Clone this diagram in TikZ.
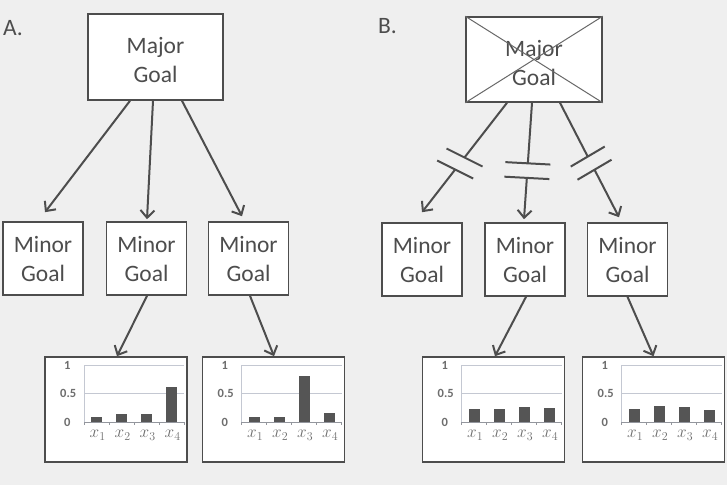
\documentclass[tikz,border=0pt]{standalone}
\usepackage{fontspec}
\setmainfont{Carlito}
\usetikzlibrary{arrows.meta,calc}
\definecolor{ink}{HTML}{4D4D4D}
\definecolor{bg}{HTML}{EFEFEF}
\definecolor{gridc}{HTML}{C4C8D2}
\definecolor{lbl}{HTML}{6E6E6E}
\definecolor{barc}{HTML}{555555}
\newcommand\drawchart[5]{%
\begin{scope}[shift={(#1.north west)}]
  \draw[gridln] (40,9) -- (140,9);
  \draw[gridln] (40,37.5) -- (140,37.5);
  \draw[gridln] (40,9) -- (40,66);
  \draw[baseln] (40,66) -- (140,66);
  \foreach \k in {0,...,4} {\draw[baseln] ({40+25*\k},66) -- ({40+25*\k},68.5);}
  \node[ticklbl] (#1t1) at (23,9) {1};
  \node[ticklbl] (#1t5) at (24,37.5) {0.5};
  \node[ticklbl] (#1t0) at (23,66) {0};
  \foreach \v [count=\i] in {#2,#3,#4,#5} {
    \fill[barc] ({52.5+25*(\i-1)-5.5},66) rectangle ({52.5+25*(\i-1)+5.5},{66-57*\v});
    \node[xlbl] (#1x\i) at ({53.5+25*(\i-1)},79) {$x_{\i}$};
  }
\end{scope}}
\begin{document}
\begin{tikzpicture}[x=1pt,y=-1pt,
  goal/.style={draw=ink, line width=1.6pt, fill=white, text=ink, align=center,
    font=\fontsize{23.5}{29}\selectfont, inner sep=0pt},
  major/.style={goal, minimum width=135pt, minimum height=86pt},
  minor/.style={goal, minimum width=80pt, minimum height=73pt},
  chart/.style={draw=ink, line width=1.6pt, fill=white, minimum width=142pt,
    minimum height=105pt, inner sep=0pt},
  arr/.style={draw=ink, line width=2pt,
    -{Straight Barb[length=7.5pt,width=14pt,line width=2pt]}},
  seg/.style={draw=ink, line width=2pt},
  brk/.style={draw=ink, line width=2pt},
  gridln/.style={draw=gridc, line width=0.8pt},
  baseln/.style={draw=gridc!75!black, line width=0.8pt},
  ticklbl/.style={font=\fontsize{12.5}{12.5}\selectfont\bfseries, text=lbl, inner sep=0pt},
  xlbl/.style={font=\fontsize{17.5}{17.5}\selectfont, text=lbl, inner sep=0pt},
  panel/.style={font=\fontsize{23.5}{23.5}\selectfont, text=ink, anchor=base west, inner sep=0pt}
]
\fill[bg] (0,0) rectangle (727,485);
\useasboundingbox (0,0) rectangle (727,485);

% panel labels
\node[panel] (lA) at (3,35) {A.};
\node[panel] (lB) at (378,33) {B.};

% major goals
\node[major] (majA) at (155.5,57) {\rule{0pt}{23pt}Major\\Goal};
\node[major, minimum width=136pt, minimum height=85pt] (majB) at (534,59.5) {\rule{0pt}{23pt}Major\\Goal};
\draw[draw=ink!85, line width=1pt] (majB.north west) -- (majB.south east)
  (majB.north east) -- (majB.south west);

% minor goals
\node[minor] (mnA1) at (43,258.5) {Minor\\Goal};
\node[minor] (mnA2) at (146.5,258.5) {Minor\\Goal};
\node[minor] (mnA3) at (248.5,258.5) {Minor\\Goal};
\node[minor] (mnB1) at (422,259.5) {Minor\\Goal};
\node[minor] (mnB2) at (525,259.5) {Minor\\Goal};
\node[minor] (mnB3) at (627.5,259.5) {Minor\\Goal};

% charts
\node[chart] (cA1) at (116,409.5) {};
\node[chart] (cA2) at (273.5,409.5) {};
\node[chart] (cB1) at (493.5,409.5) {};
\node[chart] (cB2) at (653.5,409.5) {};
\drawchart{cA1}{0.1}{0.15}{0.15}{0.61}
\drawchart{cA2}{0.1}{0.1}{0.81}{0.16}
\drawchart{cB1}{0.24}{0.23}{0.26}{0.25}
\drawchart{cB2}{0.23}{0.28}{0.26}{0.21}

% panel A arrows
\draw[arr] ([xshift=-25.5pt]majA.south) -- ([xshift=2pt,yshift=9pt]mnA1.north);
\draw[arr] ([xshift=-2.5pt]majA.south) -- ([xshift=0.5pt,yshift=2pt]mnA2.north);
\draw[arr] ([xshift=26.5pt]majA.south) -- ([xshift=-6.5pt,yshift=5pt]mnA3.north);
\draw[arr] ([xshift=0.5pt]mnA2.south) -- ([xshift=1pt]cA1.north);
\draw[arr] ([xshift=1.5pt]mnA3.south) -- ([xshift=0.5pt]cA2.north);

% panel B arrows with breaks
\coordinate (sB1) at ([xshift=-27pt]majB.south);
\coordinate (eB1) at ([yshift=10pt]mnB1.north);
\coordinate (sB2) at ([xshift=-2pt]majB.south);
\coordinate (eB2) at ([xshift=-1pt,yshift=3pt]mnB2.north);
\coordinate (sB3) at ([xshift=26pt]majB.south);
\coordinate (eB3) at ([xshift=-8.5pt,yshift=5pt]mnB3.north);

\draw[seg] (sB1) -- ($(sB1)!0.5!(eB1)$);
\draw[arr] ($(sB1)!0.61!(eB1)$) -- (eB1);
\draw[brk] ($(sB1)!0.5!(eB1)+(-18,-9)$) -- ($(sB1)!0.5!(eB1)+(18,9)$);
\draw[brk] ($(sB1)!0.61!(eB1)+(-18,-9)$) -- ($(sB1)!0.61!(eB1)+(18,9)$);

\draw[seg] (sB2) -- ($(sB2)!0.52!(eB2)$);
\draw[arr] ($(sB2)!0.645!(eB2)$) -- (eB2);
\draw[brk] ($(sB2)!0.52!(eB2)+(-22.5,-1.2)$) -- ($(sB2)!0.52!(eB2)+(22.5,1.2)$);
\draw[brk] ($(sB2)!0.645!(eB2)+(-22.5,-1.2)$) -- ($(sB2)!0.645!(eB2)+(22.5,1.2)$);

\draw[seg] (sB3) -- ($(sB3)!0.47!(eB3)$);
\draw[arr] ($(sB3)!0.585!(eB3)$) -- (eB3);
\draw[brk] ($(sB3)!0.47!(eB3)+(-17,10)$) -- ($(sB3)!0.47!(eB3)+(17,-10)$);
\draw[brk] ($(sB3)!0.585!(eB3)+(-17,10)$) -- ($(sB3)!0.585!(eB3)+(17,-10)$);

\draw[arr] ([xshift=1pt]mnB2.south) -- ([xshift=1.5pt]cB1.north);
\draw[arr] (mnB3.south) -- (cB2.north);
\end{tikzpicture}
\end{document}
